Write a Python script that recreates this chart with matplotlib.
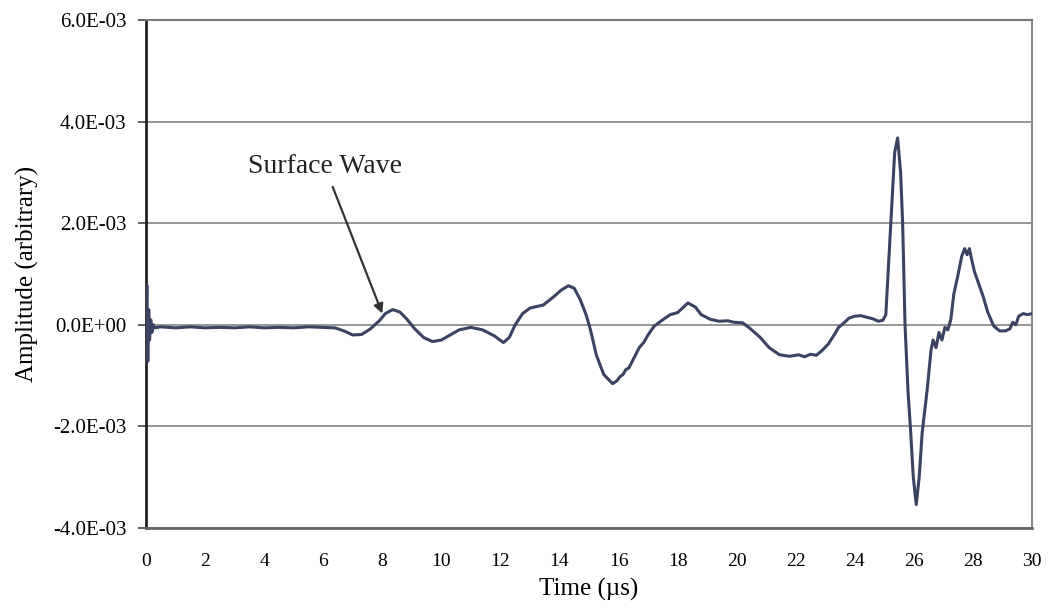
import numpy as np
import matplotlib
matplotlib.use('Agg')
import matplotlib.pyplot as plt

# waveform (time in us, amplitude in 1e-3)
time_us = [0.0, 0.03, 0.06, 0.09, 0.12, 0.16, 0.2, 0.25, 0.3, 0.5,
           1.0, 1.5, 2.0, 2.5, 3.0, 3.5, 4.0, 4.5, 5.0, 5.5,
           6.0, 6.4, 6.7, 7.0, 7.3, 7.6, 7.9, 8.1, 8.35, 8.6,
           8.85, 9.1, 9.4, 9.7, 10.0, 10.3, 10.6, 11.0, 11.4, 11.8,
           12.1, 12.3, 12.5, 12.75, 13.0, 13.45, 13.8, 14.05, 14.3, 14.5,
           14.7, 14.9, 15.05, 15.25, 15.5, 15.8, 15.95, 16.05, 16.15, 16.25,
           16.35, 16.5, 16.7, 16.85, 17.0, 17.2, 17.5, 17.75, 18.0, 18.35,
           18.6, 18.8, 19.1, 19.4, 19.7, 19.9, 20.2, 20.45, 20.8, 21.1,
           21.45, 21.8, 22.1, 22.3, 22.5, 22.7, 22.9, 23.1, 23.3, 23.45,
           23.6, 23.8, 24.0, 24.2, 24.4, 24.6, 24.8, 24.95, 25.05, 25.2,
           25.35, 25.45, 25.55, 25.62, 25.7, 25.8, 25.88, 25.98, 26.08, 26.18,
           26.28, 26.45, 26.58, 26.65, 26.75, 26.85, 26.95, 27.05, 27.15, 27.25,
           27.35, 27.5, 27.62, 27.72, 27.8, 27.88, 27.95, 28.05, 28.2, 28.35,
           28.5, 28.7, 28.9, 29.1, 29.25, 29.35, 29.45, 29.55, 29.7, 29.85,
           30.0]
amp_e3 = [0.0, 0.78, -0.72, 0.3, -0.3, 0.1, -0.15, 0.0, -0.06, -0.04,
          -0.06, -0.04, -0.06, -0.05, -0.06, -0.04, -0.06, -0.05, -0.06, -0.04,
          -0.05, -0.06, -0.12, -0.2, -0.19, -0.08, 0.08, 0.22, 0.3, 0.25,
          0.1, -0.08, -0.25, -0.33, -0.3, -0.2, -0.1, -0.05, -0.1, -0.22,
          -0.35, -0.25, 0.0, 0.22, 0.33, 0.39, 0.55, 0.68, 0.77, 0.72,
          0.5, 0.2, -0.1, -0.6, -0.98, -1.16, -1.1, -1.02, -0.98, -0.88,
          -0.85, -0.68, -0.45, -0.35, -0.2, -0.03, 0.1, 0.2, 0.24, 0.43,
          0.35, 0.2, 0.11, 0.07, 0.08, 0.05, 0.04, -0.07, -0.25, -0.45,
          -0.59, -0.62, -0.59, -0.63, -0.58, -0.6, -0.5, -0.38, -0.2, -0.05,
          0.02, 0.13, 0.17, 0.18, 0.15, 0.12, 0.07, 0.09, 0.2, 1.8,
          3.4, 3.68, 3.0, 2.0, 0.0, -1.3, -2.0, -3.0, -3.54, -3.0,
          -2.13, -1.28, -0.5, -0.3, -0.45, -0.15, -0.3, -0.05, -0.1, 0.1,
          0.6, 1.0, 1.35, 1.5, 1.38, 1.5, 1.3, 1.05, 0.8, 0.55,
          0.25, -0.02, -0.12, -0.12, -0.08, 0.05, 0.0, 0.17, 0.22, 0.2,
          0.22]

x_ticks = list(range(0, 31, 2))
y_ticks = [-4e-3, -2e-3, 0.0, 2e-3, 4e-3, 6e-3]
y_labels = ['-4.0E-03', '-2.0E-03', '0.0E+00', '2.0E-03', '4.0E-03', '6.0E-03']

plt.rcParams['font.family'] = ['Liberation Serif', 'DejaVu Serif']

fig = plt.figure(figsize=(10.52, 6.11), dpi=100)
ax = fig.add_axes([0.1388, 0.136, 0.981 - 0.1388, 0.967 - 0.136])

amp = np.array(amp_e3) * 1e-3
ax.plot(time_us, amp, color='#3b4262', lw=2.2, zorder=3)

ax.set_xlim(0, 30)
ax.set_ylim(-4e-3, 6e-3)
ax.set_xticks(x_ticks)
ax.set_yticks(y_ticks)
ax.set_yticklabels(y_labels)
ax.tick_params(axis='x', length=0, pad=18, labelsize=14)
ax.tick_params(axis='y', length=6, width=1.2, pad=8, labelsize=15, color='#444444')

ax.yaxis.grid(True, color='#7a7a7a', lw=1.1)
ax.set_axisbelow(True)

ax.spines['left'].set_color('#222222')
ax.spines['left'].set_linewidth(2.0)
ax.spines['bottom'].set_color('#666666')
ax.spines['bottom'].set_linewidth(2.0)
ax.spines['right'].set_color('#888888')
ax.spines['right'].set_linewidth(1.5)
ax.spines['top'].set_color('#7a7a7a')
ax.spines['top'].set_linewidth(1.5)

ax.set_xlabel('Time (\u00b5s)', fontsize=18, labelpad=6)
ax.set_ylabel('Amplitude (arbitrary)', fontsize=18, labelpad=10)

ax.annotate('Surface Wave', xy=(8.0, 0.22e-3), xytext=(6.05, 3.12e-3),
            fontsize=20, ha='center', va='center', color='#222222',
            arrowprops=dict(arrowstyle='-|>', color='#333333', lw=1.6,
                            mutation_scale=14, shrinkA=4, shrinkB=0))

fig.savefig('out.png', dpi=100)
